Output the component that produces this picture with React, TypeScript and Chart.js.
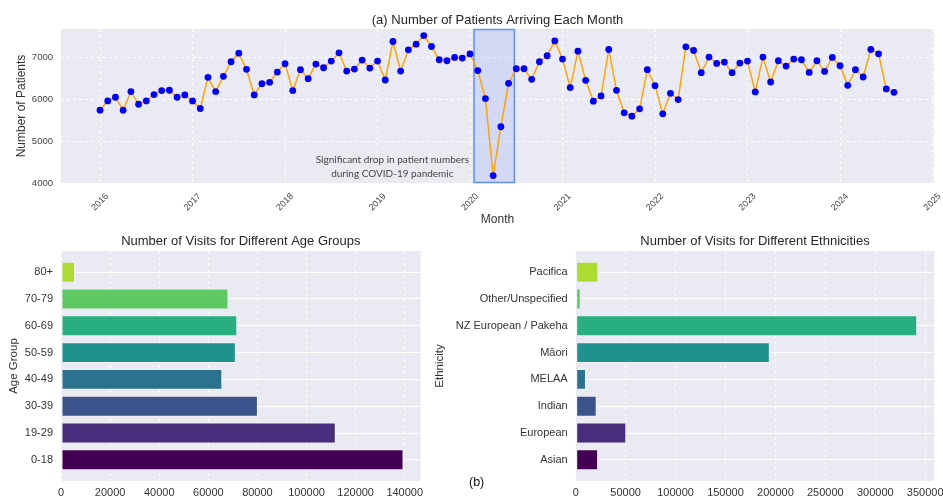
import React, { useEffect, useRef } from "react";
import { Chart, registerables } from "chart.js";

Chart.register(...registerables);

const FONT = "'Liberation Sans', Arial, sans-serif";
const NOTE_FONT = "Lato, 'Open Sans', sans-serif";
const PLOT_BG = "#eaeaf2";

// ---------- (a) monthly patients ----------
const START_YEAR = 2016;
const patients2016 = [5735, 5957, 6043, 5735, 6178, 5877, 5957, 6107, 6202, 6210, 6043, 6099];
const patients2017 = [5957, 5775, 6518, 6178, 6542, 6889, 7095, 6708, 6099, 6368, 6399, 6644];
const patients2018 = [6842, 6202, 6700, 6486, 6834, 6747, 6905, 7103, 6668, 6715, 6929, 6739];
const patients2019 = [6905, 6455, 7372, 6668, 7174, 7308, 7514, 7253, 6937, 6913, 6992, 6976];
const patients2020 = [7075, 6680, 6012, 4178, 5340, 6375, 6723, 6723, 6470, 6889, 7032, 7387];
const patients2021 = [6953, 6273, 7142, 6447, 5949, 6075, 7182, 6209, 5672, 5593, 5767, 6700];
const patients2022 = [6320, 5648, 6138, 5988, 7245, 7158, 6628, 7000, 6850, 6881, 6628, 6858];
const patients2023 = [6905, 6170, 7000, 6407, 6913, 6787, 6953, 6937, 6636, 6913, 6660, 6992];
const patients2024 = [6794, 6328, 6700, 6526, 7182, 7079, 6241, 6162];

const yearTicks = [2016, 2017, 2018, 2019, 2020, 2021, 2022, 2023, 2024, 2025];
const patientTicks = [4000, 5000, 6000, 7000];
const COVID_START = 2020.043;
const COVID_END = 2020.479;
const noteLines = ["Significant drop in patient numbers", "during COVID-19 pandemic"];

// ---------- (b) age groups ----------
const ageGroups = ["0-18", "19-29", "30-39", "40-49", "50-59", "60-69", "70-79", "80+"];
const ageVisits = [139500, 111900, 80200, 65700, 71200, 71800, 68200, 5700];
const ageTicks = [0, 20000, 40000, 60000, 80000, 100000, 120000, 140000];

// ---------- (b) ethnicities ----------
const ethnicities = [
  "Asian",
  "European",
  "Indian",
  "MELAA",
  "Māori",
  "NZ European / Pakeha",
  "Other/Unspecified",
  "Pacifica",
];
const ethnicityVisits = [22400, 50700, 21000, 10300, 194400, 342000, 5000, 22600];
const ethnicityTicks = [0, 50000, 100000, 150000, 200000, 250000, 300000, 350000];

const viridis8 = ["#440154", "#472d7b", "#3b528b", "#2c728e", "#21918c", "#28ae80", "#5ec962", "#addc30"];

const allPatients = [
  ...patients2016,
  ...patients2017,
  ...patients2018,
  ...patients2019,
  ...patients2020,
  ...patients2021,
  ...patients2022,
  ...patients2023,
  ...patients2024,
];

const plotBgPlugin = {
  id: "plotBg",
  beforeDraw(chart: any) {
    const { ctx, chartArea: a } = chart;
    ctx.save();
    ctx.fillStyle = PLOT_BG;
    ctx.fillRect(a.left, a.top, a.right - a.left, a.bottom - a.top);
    ctx.restore();
  },
};

const covidPlugin = {
  id: "covidBox",
  beforeDatasetsDraw(chart: any) {
    const { ctx, chartArea: a, scales } = chart;
    const x0 = scales.x.getPixelForValue(COVID_START);
    const x1 = scales.x.getPixelForValue(COVID_END);
    ctx.save();
    ctx.fillStyle = "rgba(100,130,255,0.165)";
    ctx.fillRect(x0, a.top, x1 - x0, a.bottom - a.top);
    ctx.strokeStyle = "#6190f7";
    ctx.lineWidth = 1.5;
    ctx.strokeRect(x0, a.top + 0.5, x1 - x0, a.bottom - a.top - 1);
    ctx.restore();
  },
  afterDatasetsDraw(chart: any) {
    const { ctx, scales } = chart;
    const cx = scales.x.getPixelForValue(2019.16);
    const cy = scales.y.getPixelForValue(4390);
    ctx.save();
    ctx.fillStyle = "#454545";
    ctx.font = `10px ${NOTE_FONT}`;
    ctx.textAlign = "center";
    ctx.textBaseline = "middle";
    ctx.fillText(noteLines[0], cx, cy - 7);
    ctx.fillText(noteLines[1], cx, cy + 7);
    ctx.restore();
  },
};

function noPad(s: any) {
  s.paddingLeft = 0;
  s.paddingRight = 0;
  s.paddingTop = 0;
  s.paddingBottom = 0;
}

function makeLineConfig(): any {
  const points = allPatients.map((v, i) => ({ x: START_YEAR + i / 12, y: v }));
  return {
    type: "line",
    data: {
      datasets: [
        {
          data: points,
          borderColor: "#ffa500",
          borderWidth: 1.5,
          pointRadius: 3.4,
          pointBackgroundColor: "#0000ff",
          pointBorderColor: "#0000ff",
          pointBorderWidth: 0,
          tension: 0,
        },
      ],
    },
    options: {
      responsive: false,
      animation: false,
      events: [],
      layout: { padding: { left: 0, right: 9, top: 0, bottom: 0 } },
      plugins: {
        legend: { display: false },
        tooltip: { enabled: false },
        title: {
          display: true,
          fullSize: false,
          text: "(a) Number of Patients Arriving Each Month",
          color: "#262626",
          font: { family: FONT, size: 13, weight: "normal" },
          padding: { top: 12.2, bottom: 1.2 },
        },
      },
      scales: {
        x: {
          type: "linear",
          min: 2015.578,
          max: 2025.016,
          afterBuildTicks: (s: any) => {
            s.ticks = yearTicks.map((v) => ({ value: v }));
          },
          afterFit: (s: any) => {
            s.height = 49;
            noPad(s);
          },
          grid: { color: "#ffffff", drawTicks: false, lineWidth: 1 },
          border: { display: false, dash: [3, 3] },
          ticks: {
            minRotation: 45,
            maxRotation: 45,
            autoSkip: false,
            padding: 8.2,
            labelOffset: 7,
            color: "#444",
            font: { family: FONT, size: 9 },
            callback: (v: any) => String(v),
          },
          title: {
            display: true,
            text: "Month",
            color: "#333",
            font: { family: FONT, size: 12 },
            padding: { top: 0, bottom: 4.8 },
          },
        },
        y: {
          type: "linear",
          min: 4000,
          max: 7670,
          afterBuildTicks: (s: any) => {
            s.ticks = patientTicks.map((v) => ({ value: v }));
          },
          afterFit: (s: any) => {
            s.width = 61;
            noPad(s);
          },
          grid: { color: "#ffffff", drawTicks: false, lineWidth: 1 },
          border: { display: false, dash: [3, 3] },
          ticks: {
            padding: 8,
            color: "#444",
            font: { family: FONT, size: 9.5 },
            callback: (v: any) => String(v),
          },
          title: {
            display: true,
            text: "Number of Patients",
            color: "#333",
            font: { family: FONT, size: 12 },
            padding: { top: 14.8, bottom: 0 },
          },
        },
      },
    },
    plugins: [plotBgPlugin, covidPlugin],
  };
}

function makeBarConfig(
  title: string,
  cats: string[],
  values: number[],
  ticks: number[],
  xMax: number,
  yTitle: string,
  yWidth: number,
  yTitlePad: number,
  rightPad: number
): any {
  return {
    type: "bar",
    data: {
      datasets: [
        {
          data: values.map((v, i) => ({ x: v, y: i })),
          backgroundColor: viridis8,
          borderColor: "rgba(255,255,255,0.35)",
          borderWidth: 1,
          borderSkipped: false,
          barPercentage: 0.78,
          categoryPercentage: 1,
        },
      ],
    },
    options: {
      responsive: false,
      animation: false,
      events: [],
      indexAxis: "y",
      layout: { padding: { left: 0, right: rightPad, top: 0, bottom: 0 } },
      plugins: {
        legend: { display: false },
        tooltip: { enabled: false },
        title: {
          display: true,
          fullSize: false,
          text: title,
          color: "#262626",
          font: { family: FONT, size: 13, weight: "normal" },
          padding: { top: 1.7, bottom: 1.7 },
        },
      },
      scales: {
        x: {
          type: "linear",
          min: 0,
          max: xMax,
          offset: false,
          afterBuildTicks: (s: any) => {
            s.ticks = ticks.map((v) => ({ value: v }));
          },
          afterFit: (s: any) => {
            s.height = 19;
            noPad(s);
          },
          grid: { color: "#ffffff", drawTicks: false, lineWidth: 1, offset: false },
          border: { display: false, dash: [3, 3] },
          ticks: {
            padding: 5.6,
            color: "#333",
            font: { family: FONT, size: 11 },
            callback: (v: any) => String(v),
          },
        },
        y: {
          type: "linear",
          min: -0.79,
          max: 7.79,
          offset: false,
          afterBuildTicks: (s: any) => {
            s.ticks = cats.map((_, i) => ({ value: i }));
          },
          afterFit: (s: any) => {
            s.width = yWidth;
            noPad(s);
          },
          grid: { color: "#ffffff", drawTicks: false, lineWidth: 1, offset: false },
          border: { display: false },
          ticks: {
            padding: 8,
            color: "#333",
            font: { family: FONT, size: 11 },
            callback: (v: any) => cats[v] ?? "",
          },
          title: {
            display: true,
            text: yTitle,
            color: "#333",
            font: { family: FONT, size: 11.5 },
            padding: { top: yTitlePad, bottom: 0 },
          },
        },
      },
    },
    plugins: [plotBgPlugin],
  };
}

function ChartBox(props: { left: number; top: number; width: number; height: number; make: () => any }) {
  const ref = useRef<HTMLCanvasElement | null>(null);
  useEffect(() => {
    if (!ref.current) return;
    const chart = new Chart(ref.current, props.make());
    return () => chart.destroy();
  }, []);
  return (
    <canvas
      ref={ref}
      width={props.width}
      height={props.height}
      style={{
        position: "absolute",
        left: props.left,
        top: props.top,
        width: props.width,
        height: props.height,
        display: "block",
      }}
    />
  );
}

export default function App() {
  return (
    <div
      style={{
        position: "absolute",
        left: 0,
        top: 0,
        width: 943,
        height: 500,
        background: "#ffffff",
        overflow: "hidden",
      }}
    >
      <ChartBox left={0} top={0} width={943} height={232} make={makeLineConfig} />
      <ChartBox
        left={0}
        top={232}
        width={470}
        height={268}
        make={() =>
          makeBarConfig(
            "Number of Visits for Different Age Groups",
            ageGroups,
            ageVisits,
            ageTicks,
            146500,
            "Age Group",
            61,
            7.1,
            49.3
          )
        }
      />
      <ChartBox
        left={430}
        top={232}
        width={513}
        height={268}
        make={() =>
          makeBarConfig(
            "Number of Visits for Different Ethnicities",
            ethnicities,
            ethnicityVisits,
            ethnicityTicks,
            359100,
            "Ethnicity",
            145.7,
            3.1,
            8.7
          )
        }
      />
      <div
        style={{
          position: "absolute",
          left: 469,
          top: 476,
          fontFamily: FONT,
          fontSize: 12.5,
          lineHeight: "13px",
          color: "#111",
        }}
      >
        (b)
      </div>
    </div>
  );
}
